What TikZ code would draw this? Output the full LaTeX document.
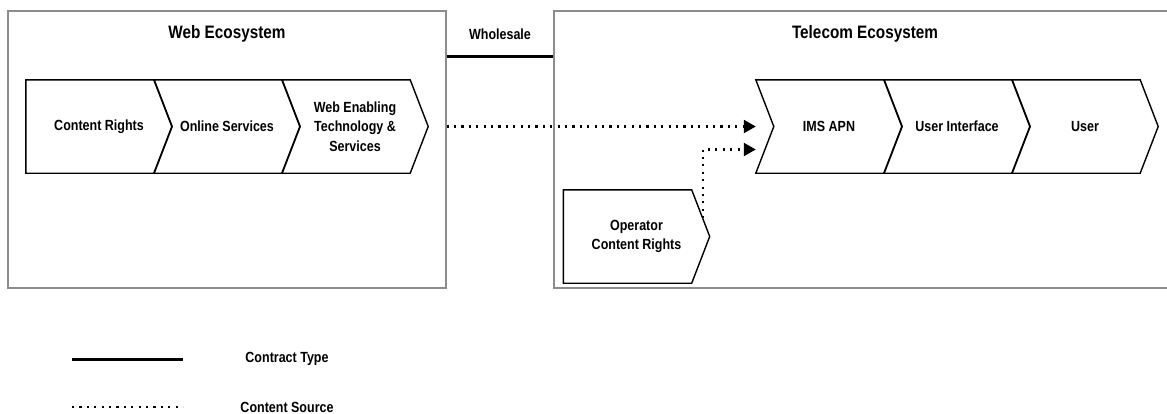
\documentclass[tikz,border=0pt]{standalone}
\usepackage{fontspec}
\setmainfont{Liberation Sans}[FakeStretch=0.85]
\usetikzlibrary{arrows.meta,calc}

\begin{document}
\begin{tikzpicture}[x=1pt,y=-1pt,
  eco/.style={draw=black!45, line width=1.2pt, inner sep=0pt, minimum height=277pt},
  title/.style={font=\bfseries\fontsize{18}{21}\selectfont},
  label/.style={font=\bfseries\fontsize{14.7}{19.5}\selectfont, align=center},
  chev/.style={label, minimum width=146pt, minimum height=93pt, inner sep=0pt},
  chevline/.style={draw=black, line width=1.4pt, line join=miter},
  contract/.style={line width=3pt, black},
  src/.style={line width=2.1pt, dash pattern=on 2.1pt off 5.3pt, black},
  srcarrow/.style={src, -{Triangle[length=12pt,width=13pt]}}]

\useasboundingbox (0,0) rectangle (1167,413);

% ecosystem frames
\node[eco, minimum width=438pt] (webeco) at (227,149.5) {};
\node[eco, minimum width=618pt] (teleco) at (863,149.5) {};

\node[title] (webtitle) at (227,34) {Web Ecosystem};
\node[title] (teltitle) at (865,34) {Telecom Ecosystem};
\node[label] (wholesale) at (500,34) {Wholesale};

% value chain on the web side
\node[chev] (cr)  at (99,126.5)  {Content Rights};
\node[chev] (os)  at (227,126.5) {Online Services};
\node[chev] (we)  at (355,126.5) {Web Enabling\\Technology \&\\Services};

% value chain on the telecom side
\node[chev] (ims) at (829,126.5)  {IMS APN};
\node[chev] (ui)  at (957,126.5)  {User Interface};
\node[chev] (usr) at (1085,126.5) {User};

\node[chev] (op) at (636.5,236.5) {Operator\\Content Rights};

% chevron outlines: flat or notched left side, pointed right side
\foreach \n/\k in {cr/0, os/18, we/18, ims/18, ui/18, usr/18, op/0}
  \draw[chevline] (\n.north west) -- ($(\n.north east)+(-18,0)$) -- (\n.east)
    -- ($(\n.south east)+(-18,0)$) -- (\n.south west) -- ($(\n.west)+(\k,0)$) -- cycle;

% wholesale contract between the two ecosystems
\draw[contract] ($(webeco.north east)+(0,46)$) -- ($(teleco.north west)+(0,46)$);

% content sources feeding the IMS APN
\draw[srcarrow] (webeco.east |- ims.west) -- (ims.west);
\coordinate (optop) at ($(op.north east)+(-18,0)$);
\coordinate (opedge) at ($(optop)!0.61!(op.east)$);
\coordinate (imslow) at ($(ims.west)+(0,23)$);
\draw[srcarrow] (opedge) |- (imslow);

% legend
\coordinate (l1a) at (72,359);
\coordinate (l1b) at (183,359);
\coordinate (l2a) at (72,407);
\coordinate (l2b) at (183,407);
\draw[contract] (l1a) -- (l1b);
\draw[src] (l2a) -- (l2b);
\node[label] (ctype) at (287,359) {Contract Type};
\node[label] (csrc) at (287,407) {Content Source};
\end{tikzpicture}
\end{document}
